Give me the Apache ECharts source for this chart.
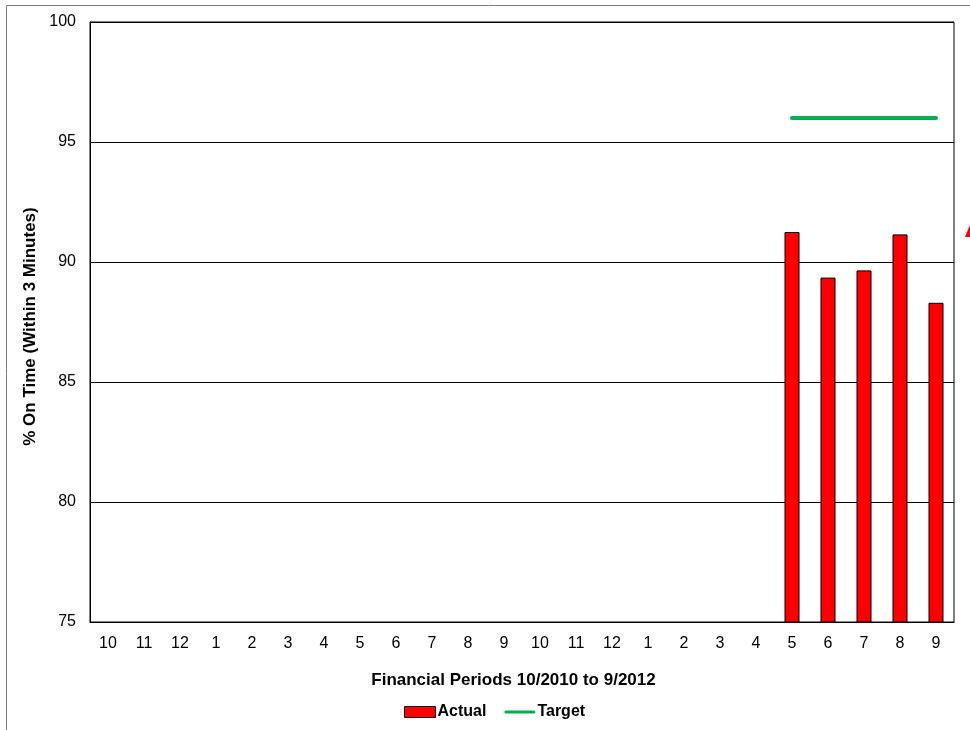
<!DOCTYPE html>
<html>
<head>
<meta charset="utf-8">
<script src="https://cdn.jsdelivr.net/npm/echarts@6/dist/echarts.min.js"></script>
<style>
  html, body { margin: 0; padding: 0; background: #fff; }
  #chart { width: 970px; height: 730px; }
</style>
</head>
<body>
<div id="chart"></div>
<script>
// Financial periods 10/2010 .. 9/2012
const periods = ['10','11','12','1','2','3','4','5','6','7','8','9',
                 '10','11','12','1','2','3','4','5','6','7','8','9'];
// % on time (within 3 minutes); periods without data are null
const actual = [null,null,null,null,null,null,null,null,null,null,null,null,
                null,null,null,null,null,null,null,91.25,89.35,89.65,91.15,88.3];
const target = [null,null,null,null,null,null,null,null,null,null,null,null,
                null,null,null,null,null,null,null,96,96,96,96,96];
const yTicks = { min: 75, max: 100, step: 5 };

const chart = echarts.init(document.getElementById('chart'));
const font = 'Liberation Sans, Arial, sans-serif';

chart.setOption({
  animation: false,
  textStyle: { fontFamily: font },
  graphic: [
    {
      type: 'rect',
      shape: { x: 6.5, y: 5.5, width: 1000, height: 800 },
      style: { fill: 'none', stroke: '#808080', lineWidth: 1 },
      z: -10
    },
    {
      type: 'polygon',
      shape: { points: [[965, 237], [972, 220], [972, 237]] },
      style: { fill: '#ff0000' }
    }
  ],
  grid: { left: 90, right: 16, top: 22, bottom: 108, show: true,
          borderColor: '#000', borderWidth: 1, backgroundColor: '#fff' },
  legend: {
    bottom: 5, left: 399, itemGap: 18, itemWidth: 31, itemHeight: 11,
    textStyle: { fontFamily: font, fontWeight: 'bold', fontSize: 16, color: '#000', padding: [0, 0, 0, -3] },
    data: [
      { name: 'Actual', icon: 'rect', itemStyle: { color: '#ff0000', borderColor: '#000', borderWidth: 1 } },
      { name: 'Target', icon: 'path://M2,4 L30,4 A1.5,1.5 0 0 1 30,7 L2,7 A1.5,1.5 0 0 1 2,4 Z' }
    ]
  },
  xAxis: {
    type: 'category', data: periods,
    name: 'Financial Periods 10/2010 to 9/2012',
    nameLocation: 'middle', nameGap: 50,
    nameTextStyle: { fontFamily: font, fontWeight: 'bold', fontSize: 17, color: '#000', padding: [0, 17, 0, 0] },
    axisLine: { lineStyle: { color: '#000' } },
    axisTick: { show: false },
    axisLabel: { color: '#000', fontSize: 16, margin: 14, fontFamily: font, interval: 0 }
  },
  yAxis: {
    type: 'value', min: yTicks.min, max: yTicks.max, interval: yTicks.step,
    name: '% On Time (Within 3 Minutes)',
    nameLocation: 'middle', nameGap: 47, nameRotate: 90,
    nameTextStyle: { fontFamily: font, fontWeight: 'bold', fontSize: 17, color: '#000', padding: [0, 9, 0, 0] },
    axisLine: { show: true, lineStyle: { color: '#000' } },
    axisTick: { show: false },
    splitLine: { lineStyle: { color: '#000', width: 1 } },
    axisLabel: { color: '#000', fontSize: 16, margin: 14, fontFamily: font }
  },
  series: [
    {
      name: 'Actual', type: 'bar', data: actual, barWidth: 15,
      itemStyle: { color: '#ff0000', borderColor: '#000', borderWidth: 1 }
    },
    {
      name: 'Target', type: 'line', data: target, showSymbol: false, symbol: 'none',
      lineStyle: { color: '#00b050', width: 4, cap: 'round' },
      itemStyle: { color: '#00b050' }
    }
  ]
});
</script>
</body>
</html>
